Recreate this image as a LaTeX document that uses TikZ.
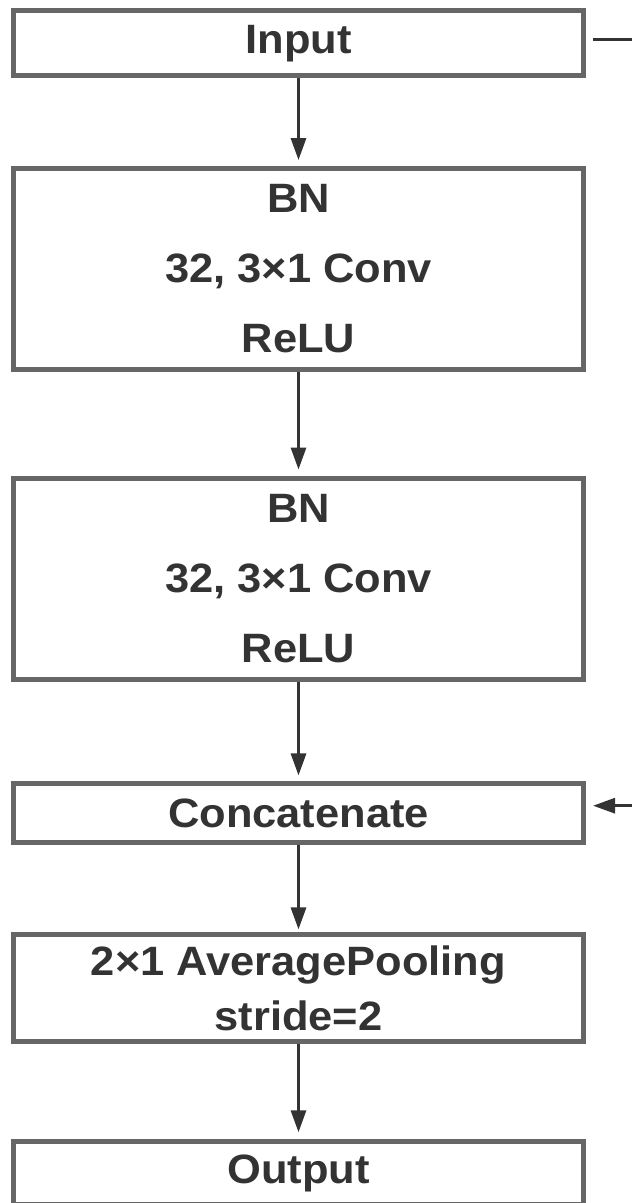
\documentclass[tikz,border=0pt]{standalone}
\usepackage{fontspec}
\newfontfamily\blockfont{Liberation Sans}[FakeStretch=1.06]
\usepackage{tikz}
\usetikzlibrary{arrows.meta}
\definecolor{boxgray}{HTML}{666666}
\definecolor{ink}{HTML}{333333}

\begin{document}
\begin{tikzpicture}[x=1pt,y=-1pt,
    block/.style={draw=boxgray,line width=5pt,minimum width=570pt,inner sep=0pt,
      align=center,text=ink,font=\blockfont\bfseries\fontsize{41}{70}\selectfont},
    link/.style={draw=ink,line width=3pt,-{Triangle[length=22pt,width=15pt]}}]
    \useasboundingbox (0,0) rectangle (632,1203);

    \node[block,minimum height=64.7pt] (input) at (298.5,43.2) {Input};
    \node[block,minimum height=200.5pt] (conva) at (298.5,268.8) {BN\\32, 3×1 Conv\\ReLU};
    \node[block,minimum height=201pt] (convb) at (298.5,578.5) {BN\\32, 3×1 Conv\\ReLU};
    \node[block,minimum height=58.7pt] (concat) at (298.5,813.3) {Concatenate};
    \node[block,minimum height=106.7pt,font=\blockfont\bfseries\fontsize{41}{55}\selectfont]
      (pool) at (298.5,988.3) {2×1 AveragePooling\\stride=2};
    \node[block,minimum height=62.4pt] (output) at (298.5,1173) {Output};

    \draw[link,shorten >=6pt] (input) -- (conva);
    \draw[link,shorten >=6pt] (conva) -- (convb);
    \draw[link,shorten >=6pt] (convb) -- (concat);
    \draw[link,shorten >=3pt] (concat) -- (pool);
    \draw[link,shorten >=7pt] (pool) -- (output);

    % skip connection, leaves and comes back at the right edge
    \coordinate (skipout) at (640,39.3);
    \coordinate (skipin) at (640,805.7);
    \draw[draw=ink,line width=3pt] ([xshift=7pt,yshift=3.9pt]input.east) -- (skipout);
    \draw[link] (skipin) -- ([xshift=7pt,yshift=7.6pt]concat.east);
  \end{tikzpicture}
\end{document}
